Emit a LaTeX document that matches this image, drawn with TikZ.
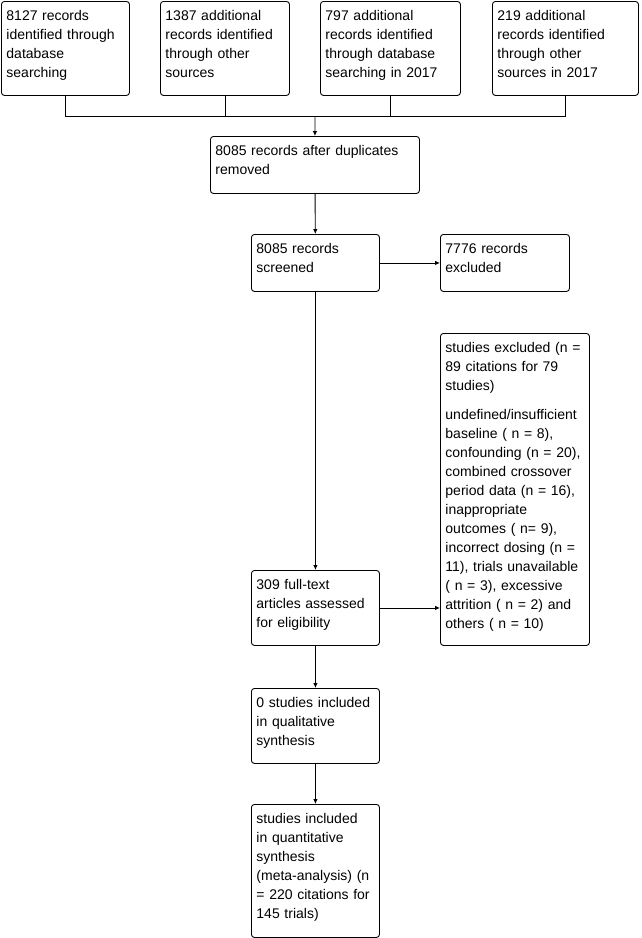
\documentclass[tikz,border=0pt]{standalone}
\usepackage{fontspec}
\setmainfont{Liberation Sans}
\usepackage{tikz}
\usetikzlibrary{positioning,arrows.meta,calc}

\begin{document}
\begin{tikzpicture}[x=1pt, y=-1pt,
  every node/.style={font=\fontsize{14}{19}\selectfont},
  box/.style={rectangle, rounded corners=3pt, draw=black, line width=0.9pt, anchor=north west,
              align=left, inner xsep=5pt, inner ysep=5.7pt, text height=13.3pt},
  arr/.style={-{Latex[length=5pt,width=4.5pt]}, line width=0.9pt}
]
  \useasboundingbox (0,0) rectangle (641,938);
  % ---- sources (top row) ----
  \node[box, text width=118pt, text depth=69.3pt] (dbs)  at (1,1)   {8127 records\\ identified through\\ database\\ searching};
  \node[box, text width=119pt, text depth=69.3pt] (oth)  at (160,1) {1387 additional\\ records identified\\ through other\\ sources};
  \node[box, text width=130pt, text depth=69.3pt] (dbs2) at (320,1) {797 additional\\ records identified\\ through database\\ searching in 2017};
  \node[box, text width=136pt, text depth=69.3pt] (oth2) at (492,1) {219 additional\\ records identified\\ through other\\ sources in 2017};
  % ---- main column ----
  \node[box, text width=199pt, text depth=32.3pt]  (dup)   at (210,136) {8085 records after duplicates\\ removed};
  \node[box, text width=118pt, text depth=32.3pt]  (scr)   at (251,234) {8085 records\\ screened};
  \node[box, text width=118pt, text depth=50.3pt]  (full)  at (251,570) {309 full-text\\ articles assessed\\ for eligibility};
  \node[box, text width=118pt, text depth=50.3pt]  (qual)  at (251,688) {0 studies included\\ in qualitative\\ synthesis};
  \node[box, text width=118pt, text depth=108.3pt] (quant) at (251,804) {studies included\\ in quantitative\\ synthesis\\ (meta-analysis) (n\\ = 220 citations for\\ 145 trials)};
  % ---- exclusions (right) ----
  \node[box, text width=119pt, text depth=32.3pt]  (exc)   at (440,234) {7776 records\\ excluded};
  \node[box, text width=139pt, text depth=287.3pt] (sexc)  at (440,333)
        {studies excluded (n =\\ 89 citations for 79\\ studies)\\[10pt]
         undefined/insufficient\\ baseline ( n = 8),\\ confounding (n = 20),\\ combined crossover\\
         period data (n = 16),\\ inappropriate\\ outcomes ( n= 9),\\ incorrect dosing (n =\\
         11), trials unavailable\\ ( n = 3), excessive\\ attrition ( n = 2) and\\ others ( n = 10)};
  % ---- connectors ----
  \coordinate (merge) at (315,116);
  \draw[line width=0.9pt] (dbs.south) -- (dbs.south |- merge) -- (oth2.south |- merge) -- (oth2.south);
  \draw[line width=0.9pt] (oth.south) -- (oth.south |- merge);
  \draw[line width=0.9pt] (dbs2.south) -- (dbs2.south |- merge);
  \draw[arr] (merge) -- (dup.north);
  \draw[arr] (dup) -- (scr);
  \draw[arr] (scr) -- (exc);
  \draw[arr] (scr) -- (full);
  \draw[arr] (full.east) -- (full.east -| sexc.west);
  \draw[arr] (full) -- (qual);
  \draw[arr] (qual) -- (quant);
\end{tikzpicture}
\end{document}
